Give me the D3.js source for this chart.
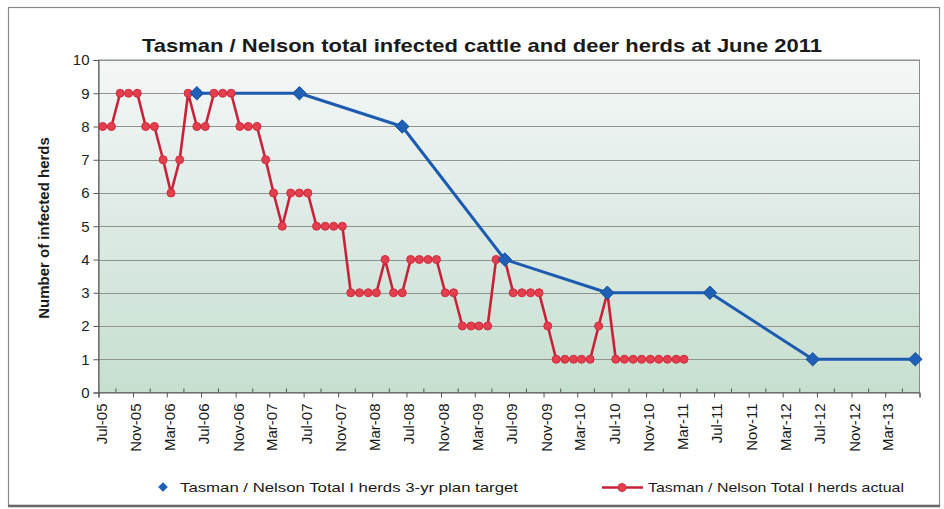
<!DOCTYPE html>
<html>
<head>
<meta charset="utf-8">
<script src="https://cdn.jsdelivr.net/npm/d3@7/dist/d3.min.js"></script>
<style>
  html, body { margin: 0; padding: 0; background: #ffffff; }
  svg { display: block; font-family: "Liberation Sans", Arial, sans-serif; }
</style>
</head>
<body>
<svg id="chart" width="944" height="509"></svg>
<script>
// ---------------- data ----------------
const titleText = "Tasman / Nelson total infected cattle and deer herds at June 2011";
const yTitle = "Number of infected herds";
const actualStart = "2005-07";          // first month of the actual series
const actualValues = [
  8, 8, 9, 9, 9, 8, 8, 7, 6, 7, 9, 8,   // Jul-05 .. Jun-06
  8, 9, 9, 9, 8, 8, 8, 7, 6, 5, 6, 6,   // Jul-06 .. Jun-07
  6, 5, 5, 5, 5, 3, 3, 3, 3, 4, 3, 3,   // Jul-07 .. Jun-08
  4, 4, 4, 4, 3, 3, 2, 2, 2, 2, 4, 4,   // Jul-08 .. Jun-09
  3, 3, 3, 3, 2, 1, 1, 1, 1, 1, 2, 3,   // Jul-09 .. Jun-10
  1, 1, 1, 1, 1, 1, 1, 1, 1             // Jul-10 .. Mar-11
];
const targetMonths = ["2006-06", "2007-06", "2008-06", "2009-06", "2010-06", "2011-06", "2012-06", "2013-06"];
const targetValues = [9, 9, 8, 4, 3, 3, 1, 1];
const axisStart = "2005-07";
const axisEnd = "2013-07";
const yTicks = [0, 1, 2, 3, 4, 5, 6, 7, 8, 9, 10];
const legendTarget = "Tasman / Nelson Total I herds 3-yr plan target";
const legendActual = "Tasman / Nelson Total I herds actual";

// ---------------- setup ----------------
const parseMonth = d3.timeParse("%Y-%m");
const mid = d => d3.timeDay.offset(d, 15);
const fmt = d3.timeFormat("%b-%y");

const actualDates = d3.timeMonth.range(parseMonth(actualStart), d3.timeMonth.offset(parseMonth(actualStart), actualValues.length));
const actual = actualValues.map((v, i) => ({ date: mid(actualDates[i]), value: v }));
const target = targetValues.map((v, i) => ({ date: mid(parseMonth(targetMonths[i])), value: v }));

const svg = d3.select("#chart");
const plot = { left: 98.5, right: 919.5, top: 60, bottom: 392.5 };

const x = d3.scaleTime()
  .domain([parseMonth(axisStart), parseMonth(axisEnd)])
  .range([plot.left, plot.right]);
const y = d3.scaleLinear().domain([0, 10]).range([plot.bottom, plot.top]);

// outer frame
svg.append("rect")
  .attr("x", 8.5).attr("y", 7.5).attr("width", 931).attr("height", 498)
  .attr("fill", "#ffffff").attr("stroke", "#8a8a8a").attr("stroke-width", 1.2);
svg.append("line")
  .attr("x1", 8).attr("x2", 940).attr("y1", 506).attr("y2", 506)
  .attr("stroke", "#6a6a6a").attr("stroke-width", 2.5);

// plot background gradient
const defs = svg.append("defs");
const grad = defs.append("linearGradient").attr("id", "bg")
  .attr("x1", "0").attr("y1", "0").attr("x2", "0").attr("y2", "1");
grad.append("stop").attr("offset", "0%").attr("stop-color", "#f4f7f6");
grad.append("stop").attr("offset", "40%").attr("stop-color", "#e1ece8");
grad.append("stop").attr("offset", "100%").attr("stop-color", "#c6dfcf");

svg.append("rect")
  .attr("x", plot.left).attr("y", plot.top)
  .attr("width", plot.right - plot.left).attr("height", plot.bottom - plot.top)
  .attr("fill", "url(#bg)")
  .attr("stroke", "#8c8c8c").attr("stroke-width", 1);

// gridlines
svg.append("g").selectAll("line")
  .data(yTicks.filter(t => t > 0))
  .join("line")
  .attr("x1", plot.left).attr("x2", plot.right)
  .attr("y1", d => Math.round(y(d)) + 0.5).attr("y2", d => Math.round(y(d)) + 0.5)
  .attr("stroke", "#8f9391").attr("stroke-width", 1);

// y axis
const yAxis = svg.append("g")
  .attr("transform", `translate(${plot.left},0)`)
  .call(d3.axisLeft(y).tickValues(yTicks).tickSize(5).tickPadding(4).tickFormat(d3.format("d")));
yAxis.select(".domain").attr("stroke", "#555");
yAxis.selectAll(".tick line").attr("stroke", "#555");
yAxis.selectAll(".tick text")
  .attr("font-family", "Liberation Sans, Arial, sans-serif")
  .attr("font-size", 15).attr("fill", "#222");

// x axis: major ticks every 4 months from Jul-05 (outside), minor every 2 months (inside)
const axisStop = d3.timeMonth.offset(parseMonth(axisEnd), 1);
const majorTicks = d3.timeMonth.range(parseMonth(axisStart), axisStop, 4);
const minorTicks = d3.timeMonth.range(d3.timeMonth.offset(parseMonth(axisStart), 2), axisStop, 4);
const labelTicks = majorTicks.filter(d => +d < +parseMonth(axisEnd));

const xAxis = svg.append("g")
  .attr("transform", `translate(0,${plot.bottom})`)
  .call(d3.axisBottom(x).tickValues(majorTicks).tickSize(5).tickFormat(""));
xAxis.select(".domain").attr("stroke", "#555");
xAxis.selectAll(".tick line").attr("stroke", "#555");

svg.append("g").attr("transform", `translate(0,${plot.bottom})`)
  .selectAll("line").data(minorTicks).join("line")
  .attr("x1", d => x(d)).attr("x2", d => x(d))
  .attr("y1", 0).attr("y2", -4)
  .attr("stroke", "#555");

svg.append("g").selectAll("text")
  .data(labelTicks)
  .join("text")
  .attr("transform", d => `translate(${x(d) + 8},${plot.bottom + 11}) rotate(-90)`)
  .attr("text-anchor", "end")
  .attr("font-size", 15)
  .attr("fill", "#1a1a1a")
  .text(d => fmt(d));

// target series (blue)
const line = d3.line().x(d => x(d.date)).y(d => y(d.value));
svg.append("path")
  .datum(target)
  .attr("d", line)
  .attr("fill", "none")
  .attr("stroke", "#1d5bb0")
  .attr("stroke-width", 3)
  .attr("stroke-linejoin", "round");

// actual series (red)
svg.append("path")
  .datum(actual)
  .attr("d", line)
  .attr("fill", "none")
  .attr("stroke", "#c8223a")
  .attr("stroke-width", 2.6)
  .attr("stroke-linejoin", "round");

svg.append("g").selectAll("circle")
  .data(actual)
  .join("circle")
  .attr("cx", d => x(d.date))
  .attr("cy", d => y(d.value))
  .attr("r", 4)
  .attr("fill", "#e43f4e")
  .attr("stroke", "#cf2c3e")
  .attr("stroke-width", 1);

const diamond = d3.symbol().type(d3.symbolDiamond2).size(115);
svg.append("g").selectAll("path")
  .data(target)
  .join("path")
  .attr("d", diamond)
  .attr("transform", d => `translate(${x(d.date)},${y(d.value)})`)
  .attr("fill", "#1f5fb5")
  .attr("stroke", "#184f9c")
  .attr("stroke-width", 1);

// title
svg.append("text")
  .attr("x", 482).attr("y", 52)
  .attr("text-anchor", "middle")
  .attr("font-size", 19).attr("font-weight", "bold")
  .attr("fill", "#1a1a1a")
  .attr("textLength", 680).attr("lengthAdjust", "spacingAndGlyphs")
  .text(titleText);

// y axis title
svg.append("text")
  .attr("transform", `translate(49,${228}) rotate(-90)`)
  .attr("text-anchor", "middle")
  .attr("font-size", 15).attr("font-weight", "bold")
  .attr("fill", "#1a1a1a")
  .text(yTitle);

// legend
const lg = svg.append("g");
lg.append("path")
  .attr("d", d3.symbol().type(d3.symbolDiamond2).size(60))
  .attr("transform", "translate(163,487)")
  .attr("fill", "#1f5fb5");
lg.append("text")
  .attr("x", 180).attr("y", 492)
  .attr("font-size", 13.5).attr("fill", "#1a1a1a")
  .attr("textLength", 338).attr("lengthAdjust", "spacingAndGlyphs")
  .text(legendTarget);

lg.append("line")
  .attr("x1", 602).attr("x2", 643).attr("y1", 487.5).attr("y2", 487.5)
  .attr("stroke", "#c8223a").attr("stroke-width", 2.6);
lg.append("circle")
  .attr("cx", 622).attr("cy", 487.5).attr("r", 4)
  .attr("fill", "#e43f4e").attr("stroke", "#cf2c3e");
lg.append("text")
  .attr("x", 648).attr("y", 492)
  .attr("font-size", 13.5).attr("fill", "#1a1a1a")
  .attr("textLength", 256).attr("lengthAdjust", "spacingAndGlyphs")
  .text(legendActual);
</script>
</body>
</html>
